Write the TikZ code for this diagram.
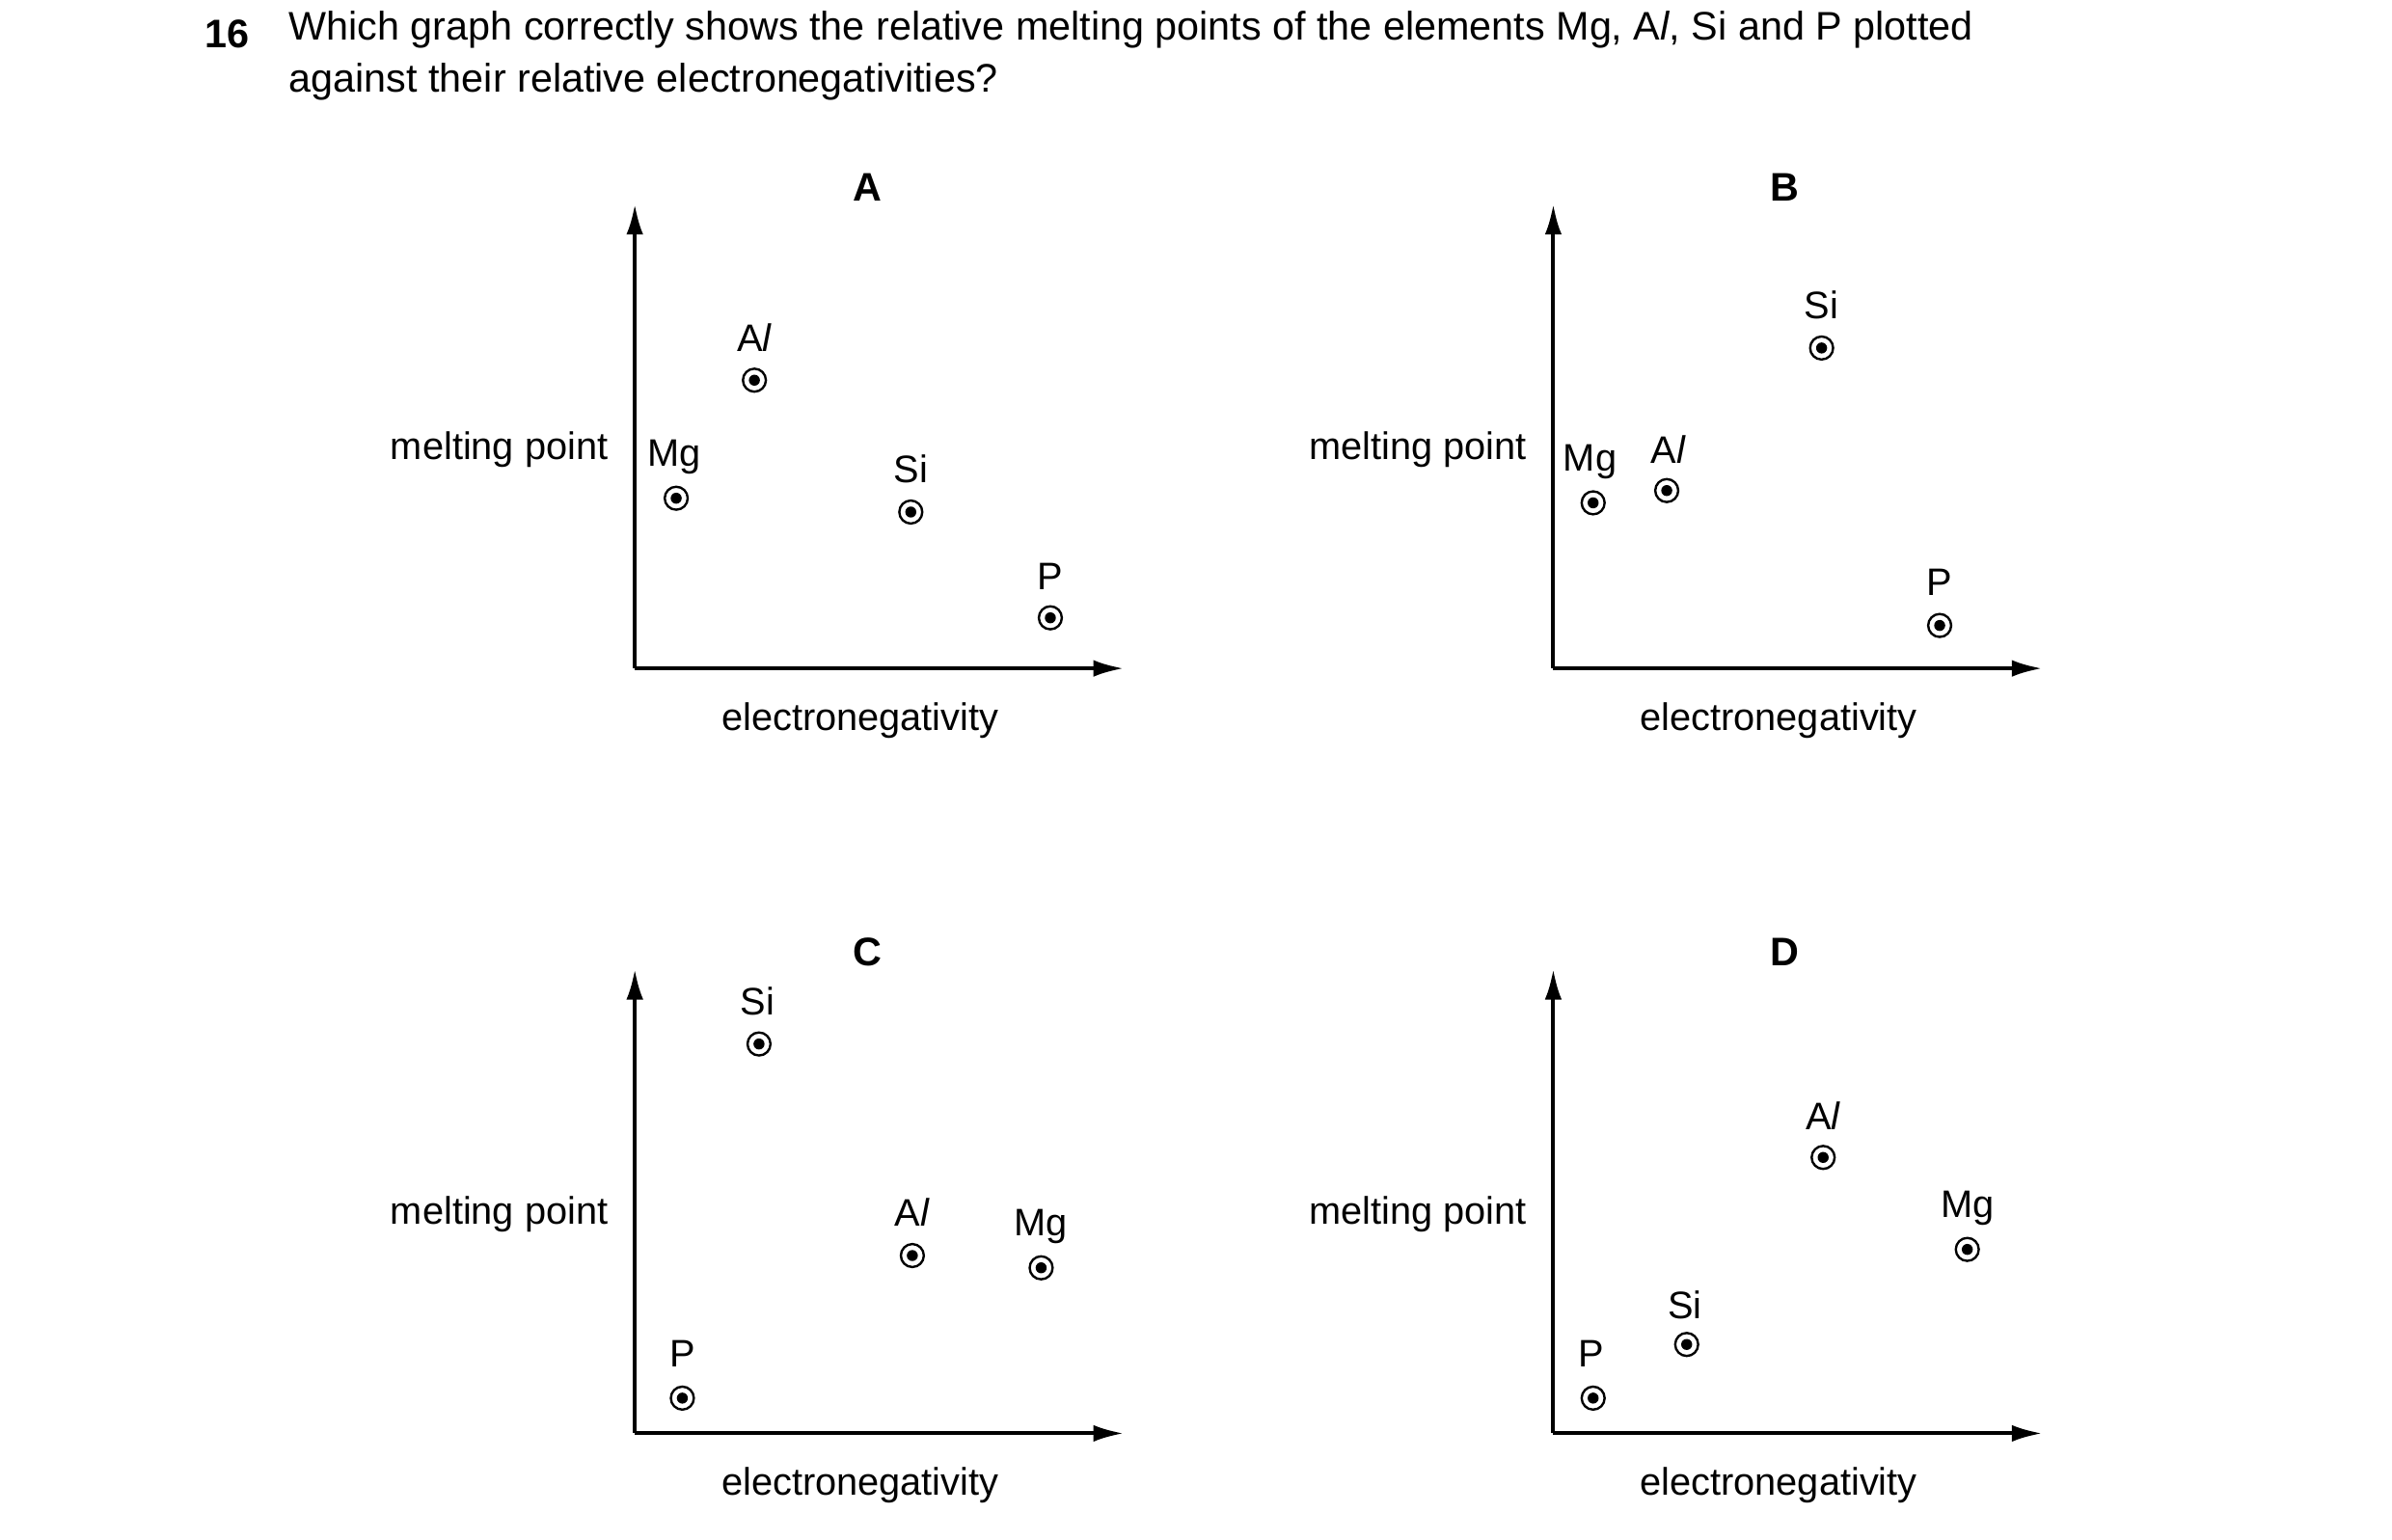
\documentclass[tikz,border=0pt]{standalone}
\usepackage{fontspec}
\setmainfont{Liberation Sans}
\usetikzlibrary{arrows.meta}
\tikzset{every picture/.style={line width=1.5pt}}
\tikzset{
  lbl/.style={inner sep=0.75pt,font=\fontsize{25}{30}\selectfont},
  ttl/.style={inner sep=0.75pt,font=\fontsize{26}{30}\selectfont\bfseries},
  pt/.style={circle,draw,line width=1.5pt,minimum size=15pt,inner sep=0pt,
    path picture={\fill (path picture bounding box.center) circle (3.6pt);}},
  axis/.style={line width=2.5pt,-{Latex[length=20pt,width=11pt]}}
}
\begin{document}
\begin{tikzpicture}[x=1pt,y=1pt,yscale=-1,xscale=1]
\useasboundingbox (0,0) rectangle (1560,1004);

% Question
\node [ttl,anchor=west] (num) at (132,22) {16};
\node [lbl,anchor=north west,align=left,font=\fontsize{26}{34}\selectfont] (q) at (187,6)
  {Which graph correctly shows the relative melting points of the elements Mg, A\textit{l}, Si and P plotted\\against their relative electronegativities?};

% Graph A
\coordinate (oA) at (414,436);
\coordinate (yA) at (414,133);
\coordinate (xA) at (733,436);
\draw [axis] (oA) -- (yA);
\draw [axis] (oA) -- (xA);
\node [ttl] (tA) at (566,122) {A};
\node [lbl,anchor=east] (mpA) at (398,293) {melting point};
\node [lbl] (enA) at (561,470) {electronegativity};
\node [pt] (MgA) at (441,325) {};
\node [lbl] at (440,298) {Mg};
\node [pt] (AlA) at (492,248) {};
\node [lbl] at (492,220) {A\textit{l}};
\node [pt] (SiA) at (594,334) {};
\node [lbl] at (594,306) {Si};
\node [pt] (PA) at (685,403) {};
\node [lbl] at (685,376) {P};

% Graph B
\coordinate (oB) at (1013,436);
\coordinate (yB) at (1013,133);
\coordinate (xB) at (1332,436);
\draw [axis] (oB) -- (yB);
\draw [axis] (oB) -- (xB);
\node [ttl] (tB) at (1164,122) {B};
\node [lbl,anchor=east] (mpB) at (997,293) {melting point};
\node [lbl] (enB) at (1160,470) {electronegativity};
\node [pt] (MgB) at (1039,328) {};
\node [lbl] at (1037,301) {Mg};
\node [pt] (AlB) at (1087,320) {};
\node [lbl] at (1088,293) {A\textit{l}};
\node [pt] (SiB) at (1188,227) {};
\node [lbl] at (1188,199) {Si};
\node [pt] (PB) at (1265,408) {};
\node [lbl] at (1265,380) {P};

% Graph C
\coordinate (oC) at (414,935);
\coordinate (yC) at (414,632);
\coordinate (xC) at (733,935);
\draw [axis] (oC) -- (yC);
\draw [axis] (oC) -- (xC);
\node [ttl] (tC) at (566,621) {C};
\node [lbl,anchor=east] (mpC) at (398,792) {melting point};
\node [lbl] (enC) at (561,969) {electronegativity};
\node [pt] (SiC) at (495,681) {};
\node [lbl] at (494,653) {Si};
\node [pt] (AlC) at (595,819) {};
\node [lbl] at (595,791) {A\textit{l}};
\node [pt] (MgC) at (679,827) {};
\node [lbl] at (679,800) {Mg};
\node [pt] (PC) at (445,912) {};
\node [lbl] at (445,883) {P};

% Graph D
\coordinate (oD) at (1013,935);
\coordinate (yD) at (1013,632);
\coordinate (xD) at (1332,935);
\draw [axis] (oD) -- (yD);
\draw [axis] (oD) -- (xD);
\node [ttl] (tD) at (1164,621) {D};
\node [lbl,anchor=east] (mpD) at (997,792) {melting point};
\node [lbl] (enD) at (1160,969) {electronegativity};
\node [pt] (AlD) at (1189,755) {};
\node [lbl] at (1189,728) {A\textit{l}};
\node [pt] (MgD) at (1283,815) {};
\node [lbl] at (1283,788) {Mg};
\node [pt] (SiD) at (1100,877) {};
\node [lbl] at (1099,851) {Si};
\node [pt] (PD) at (1039,912) {};
\node [lbl] at (1038,883) {P};
\end{tikzpicture}
\end{document}
